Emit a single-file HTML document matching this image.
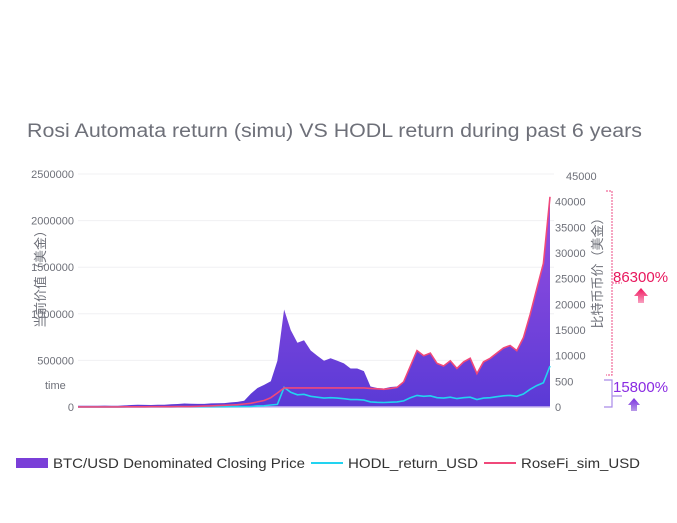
<!DOCTYPE html>
<html><head><meta charset="utf-8">
<style>
html,body{margin:0;padding:0;background:#fff;}
body{width:677px;height:518px;overflow:hidden;font-family:"Liberation Sans","Noto Sans CJK SC",sans-serif;}
</style></head>
<body>
<svg id="chart" width="677" height="518" viewBox="0 0 677 518" xmlns="http://www.w3.org/2000/svg" font-family="Liberation Sans, Noto Sans CJK SC, sans-serif">
<defs>
<linearGradient id="ag" x1="0" y1="0" x2="0" y2="1">
<stop offset="0" stop-color="#9a4fe0"/><stop offset="1" stop-color="#5a3ad6"/>
</linearGradient>
<linearGradient id="pa" x1="0" y1="0" x2="0" y2="1"><stop offset="0" stop-color="#f0135c"/><stop offset="1" stop-color="#f8a0c0"/></linearGradient>
<linearGradient id="ua" x1="0" y1="0" x2="0" y2="1"><stop offset="0" stop-color="#7a2ee0"/><stop offset="1" stop-color="#b89ae8"/></linearGradient>
</defs>
<text x="27" y="137" font-size="19" fill="#6e7079" textLength="615" lengthAdjust="spacingAndGlyphs">Rosi Automata return (simu)  VS  HODL return during past 6 years</text>
<g id="grid"></g>
<g id="marks"></g>
<g id="axes"></g>
<text transform="translate(45,276) rotate(-90)" text-anchor="middle" font-size="13" fill="#6e7079">当前价值（美金）</text>
<text transform="translate(602,270) rotate(-90)" text-anchor="middle" font-size="13" fill="#6e7079">比特币币价（美金）</text>
<text x="45" y="389" font-size="11" fill="#6e7079">time</text>
<path d="M606,191 H612 V375 H606 M612,283 H622" fill="none" stroke="#f06a9a" stroke-width="1.2" stroke-dasharray="2,1"/>
<path d="M604,380 H612 V407 H604 M612,396 H622" fill="none" stroke="#a98ae8" stroke-width="1.2"/>
<text x="613" y="282" font-size="15" fill="#e8175d">86300%</text>
<text x="613" y="392" font-size="15" fill="#8a2be2">15800%</text>
<path d="M641,288 L648,296 H644 V303 H638 V296 H634 Z" fill="url(#pa)"/>
<path d="M634,398 L640,405 H637 V411 H631 V405 H628 Z" fill="url(#ua)"/>
<g>
<rect x="16" y="458" width="32" height="10" fill="#7a3fd8"/>
<text x="53" y="468" font-size="14" fill="#333" textLength="252" lengthAdjust="spacingAndGlyphs">BTC/USD Denominated Closing Price</text>
<line x1="311" y1="463" x2="343" y2="463" stroke="#22d3f0" stroke-width="2"/>
<text x="348" y="468" font-size="14" fill="#333" textLength="130" lengthAdjust="spacingAndGlyphs">HODL_return_USD</text>
<line x1="484" y1="463" x2="516" y2="463" stroke="#f0487a" stroke-width="2"/>
<text x="521" y="468" font-size="14" fill="#333" textLength="119" lengthAdjust="spacingAndGlyphs">RoseFi_sim_USD</text>
</g>
</svg>
<script>
const btcPrice=[250,240,230,260,280,240,230,320,380,430,400,380,420,450,530,580,680,630,600,610,700,730,750,900,1000,1200,2600,3700,4300,5000,9000,19000,15000,12500,13000,11000,10000,9000,9500,9000,8500,7500,7500,7000,4000,3700,3600,3900,4000,5000,8000,11000,10000,10500,8500,8000,9000,7500,8800,9500,6500,8800,9500,10500,11500,12000,11000,13500,18000,23000,28000,41000];
const rosefiValue=[1000,1000,1200,1300,1500,1500,1600,1800,2000,2500,2600,2800,3000,3200,3500,3800,4200,4500,8000,10000,12000,15000,18000,21000,25000,32000,40000,55000,70000,100000,150000,205000,205000,205000,205000,205000,205000,205000,205000,205000,205000,205000,205000,205000,200000,195000,190000,200000,210000,270000,440000,605000,550000,578000,468000,440000,495000,413000,484000,523000,358000,484000,523000,578000,633000,660000,605000,743000,990000,1265000,1540000,2255000];
const hodlValue=[1000,1000,1000,1100,1200,1100,1000,1500,1800,2000,1900,1800,2000,2100,2500,2700,3200,3000,2800,2900,3300,3400,3500,4200,4700,5600,5200,11800,13200,21000,28000,210000,158000,131000,136000,115000,105000,95000,100000,95000,89000,79000,79000,74000,55000,50000,48000,52000,55000,65000,100000,125000,115000,120000,100000,95000,105000,90000,100000,105000,80000,95000,100000,110000,120000,125000,115000,140000,190000,230000,260000,440000];
const leftTicks=["0","500000","1000000","1500000","2000000","2500000"];
const rightTicks=["0","500","10000","15000","20000","25000","30000","35000","40000","45000"];
const rightTickValues=[0,5000,10000,15000,20000,25000,30000,35000,40000,45000];
const leftTickValues=[0,500000,1000000,1500000,2000000,2500000];

const X0=78,X1=550,Y0=407;
const xS=i=>X0+i*(X1-X0)/(btcPrice.length-1);
const yL=v=>Y0-v*(Y0-174)/2500000;
const yR=v=>Y0-v*(Y0-176)/45000;
const NS="http://www.w3.org/2000/svg";
function mk(tag,attrs,parent){const e=document.createElementNS(NS,tag);for(const k in attrs)e.setAttribute(k,attrs[k]);parent.appendChild(e);return e;}
const grid=document.getElementById('grid'),marks=document.getElementById('marks'),axes=document.getElementById('axes');
leftTickValues.forEach((v,i)=>{
  const y=yL(v);
  if(i>0){const g=mk('line',{x1:X0,x2:X1+4,y1:y,y2:y,stroke:'#f0f0f3','stroke-width':1},grid);
  
  }
  const t=mk('text',{x:74,y:y+4,'text-anchor':'end','font-size':11,fill:'#6e7079'},axes);
  t.textContent=leftTicks[i];
  
  
});
rightTickValues.forEach((v,i)=>{
  const t=mk('text',{x:i==9?566:555,y:yR(v)+4,'font-size':11,fill:'#6e7079'},axes);
  t.textContent=rightTicks[i];
  
  
});
let d='M'+X0+','+Y0;
btcPrice.forEach((v,i)=>{d+=' L'+xS(i).toFixed(1)+','+yR(v).toFixed(1);});
d+=' L'+X1+','+Y0+' Z';
const area=mk('path',{d:d,fill:'url(#ag)'},marks);


const bl=mk('line',{x1:X0,x2:X1,y1:Y0,y2:Y0,stroke:'#c9b8f0','stroke-width':1.5},marks);


function line(arr,color,name){
  const p=arr.map((v,i)=>(i?'L':'M')+xS(i).toFixed(1)+','+yL(v).toFixed(1)).join(' ');
  const e=mk('path',{d:p,fill:'none',stroke:color,'stroke-width':1.6},marks);
  
  
}
line(hodlValue,'#22d3f0','hodl-return-line');
line(rosefiValue,'#f0487a','rosefi-sim-line');
</script>
</body></html>
